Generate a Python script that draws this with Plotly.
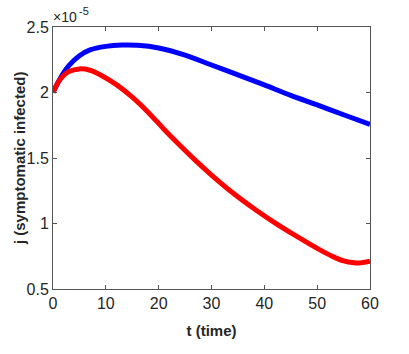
import plotly.graph_objects as go

t_blue = [0, 1, 2, 3, 5, 7, 10, 13, 16, 20, 25, 30, 35, 40, 45, 50, 55, 60]
j_blue = [2.0, 2.08, 2.15, 2.205, 2.28, 2.325, 2.352, 2.362, 2.36, 2.34, 2.285, 2.21, 2.135, 2.058, 1.978, 1.905, 1.83, 1.757]

t_red = [0, 1, 2, 3, 5, 7, 9, 12, 15, 18, 21, 24, 27, 30, 34, 38, 42, 46, 50, 53, 55, 57, 58, 60]
j_red = [2.0, 2.08, 2.13, 2.16, 2.18, 2.17, 2.134, 2.06, 1.965, 1.85, 1.72, 1.597, 1.48, 1.37, 1.235, 1.115, 1.005, 0.905, 0.81, 0.747, 0.715, 0.70, 0.698, 0.712]

x_ticks = [0, 10, 20, 30, 40, 50, 60]
y_ticks = [0.5, 1, 1.5, 2, 2.5]
y_ticktext = ["0.5", "1", "1.5", "2", "2.5"]

FONT = "Liberation Sans, Arial"

fig = go.Figure()
fig.add_trace(go.Scatter(x=t_blue, y=j_blue, mode="lines",
                         line=dict(color="#0000FF", width=5, shape="spline", smoothing=0.7), showlegend=False))
fig.add_trace(go.Scatter(x=t_red, y=j_red, mode="lines",
                         line=dict(color="#FF0000", width=5, shape="spline", smoothing=0.7), showlegend=False))

axis_common = dict(showgrid=False, zeroline=False, showline=True, linecolor="#555555", linewidth=1,
                   mirror="ticks", ticks="inside", ticklen=4, tickcolor="#555555", automargin=False,
                   tickfont=dict(family=FONT, size=16, color="#262626"))

fig.update_xaxes(range=[0, 60], tickvals=x_ticks,
                 title=dict(text="<b>t (time)</b>", font=dict(family=FONT, size=15, color="#262626"), standoff=14),
                 **axis_common)
fig.update_yaxes(range=[0.5, 2.5], tickvals=y_ticks, ticktext=y_ticktext, **axis_common)

fig.add_annotation(x=-0.107, y=0.5, xref="paper", yref="paper", xanchor="center", yanchor="middle",
                   text="<b>j (symptomatic infected)</b>", textangle=-90, showarrow=False,
                   font=dict(family=FONT, size=15, color="#262626"))

fig.add_annotation(x=0, y=1, xref="paper", yref="paper", xanchor="left", yanchor="bottom",
                   text="×10", showarrow=False, xshift=-2, yshift=0,
                   font=dict(family=FONT, size=14, color="#262626"))
fig.add_annotation(x=0, y=1, xref="paper", yref="paper", xanchor="left", yanchor="bottom",
                   text="-5", showarrow=False, xshift=24, yshift=8,
                   font=dict(family=FONT, size=11, color="#262626"))

fig.update_layout(width=409, height=354, margin=dict(l=53, r=39, t=27, b=65),
                  plot_bgcolor="white", paper_bgcolor="white")

fig.write_html("out.html", config={"displayModeBar": False},
               post_script="document.body.style.margin='0';")
